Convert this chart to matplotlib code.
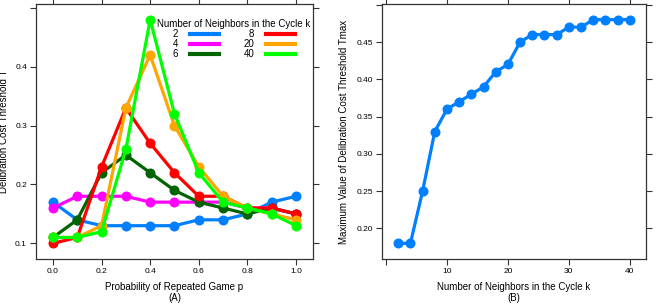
import numpy as np
import matplotlib
matplotlib.use("Agg")
from matplotlib import pyplot as plt

plt.rcParams["font.family"] = ["Liberation Sans", "DejaVu Sans"]

# panel A: threshold T against probability p, one line per k
p = [0.0, 0.1, 0.2, 0.3, 0.4, 0.5, 0.6, 0.7, 0.8, 0.9, 1.0]
k_labels = ["2", "4", "6", "8", "20", "40"]
t_k2 = [0.17, 0.14, 0.13, 0.13, 0.13, 0.13, 0.14, 0.14, 0.15, 0.17, 0.18]
t_k4 = [0.16, 0.18, 0.18, 0.18, 0.17, 0.17, 0.17, 0.17, 0.16, 0.16, 0.15]
t_k6 = [0.11, 0.14, 0.22, 0.25, 0.22, 0.19, 0.17, 0.16, 0.15, 0.16, 0.15]
t_k8 = [0.10, 0.11, 0.23, 0.33, 0.27, 0.22, 0.18, 0.18, 0.16, 0.16, 0.15]
t_k20 = [0.11, 0.11, 0.13, 0.33, 0.42, 0.30, 0.23, 0.18, 0.16, 0.15, 0.14]
t_k40 = [0.11, 0.11, 0.12, 0.26, 0.48, 0.32, 0.22, 0.17, 0.16, 0.15, 0.13]
colors = ["#0080ff", "#ff00ff", "#006400", "#ff0000", "#ffa500", "#00ff00"]

# panel B: max T against k
k = [2, 4, 6, 8, 10, 12, 14, 16, 18, 20, 22, 24, 26, 28, 30, 32, 34, 36, 38, 40]
t_max = [0.18, 0.18, 0.25, 0.33, 0.36, 0.37, 0.38, 0.39, 0.41, 0.42,
         0.45, 0.46, 0.46, 0.46, 0.47, 0.47, 0.48, 0.48, 0.48, 0.48]

fig = plt.figure(figsize=(6.6, 3.05), dpi=100)
ax1 = fig.add_axes([0.0545, 0.1508, 0.4197, 0.836])
ax2 = fig.add_axes([0.5788, 0.1508, 0.40, 0.836])

lw = 2.3
ms = 6.2
fs = 7.0


def style(ax):
    for s in ax.spines.values():
        s.set_color("#333333")
        s.set_linewidth(0.9)
    ax.tick_params(direction="out", length=4, width=0.8, color="#333333",
                   labelsize=6.0, top=True, right=True, pad=2.5)


series = [t_k2, t_k4, t_k6, t_k8, t_k20, t_k40]
for vals, c, lab in zip(series, colors, k_labels):
    ax1.plot(p, vals, "-o", color=c, lw=lw, ms=ms, label=lab)

ax1.set_xlim(-0.07, 1.07)
ax1.set_ylim(0.0734, 0.5066)
ax1.set_xticks([0.0, 0.2, 0.4, 0.6, 0.8, 1.0])
ax1.set_xticklabels(["0.0", "0.2", "0.4", "0.6", "0.8", "1.0"])
ax1.set_yticks([0.1, 0.2, 0.3, 0.4, 0.5])
ax1.set_yticklabels(["0.1", "0.2", "0.3", "0.4", ""])
style(ax1)
ax1.set_xlabel("Probability of Repeated Game p\n(A)", fontsize=fs, labelpad=5,
               linespacing=1.15)
ax1.set_ylabel("Delibration Cost Threshold T", fontsize=fs)
ax1.yaxis.set_label_coords(-0.096, 0.5)

leg = ax1.legend(loc="upper right", bbox_to_anchor=(1.0, 0.95), ncol=2,
                 markerfirst=False, frameon=False, fontsize=fs,
                 title="Number of Neighbors in the Cycle k", title_fontsize=fs,
                 handlelength=3.0, handletextpad=1.2, columnspacing=2.5,
                 labelspacing=0.0, borderpad=0.2, borderaxespad=0.05)
for h in leg.legend_handles:
    h.set_marker("")
    h.set_linewidth(3.0)

ax2.plot(k, t_max, "-o", color="#0080ff", lw=lw, ms=ms)
ax2.set_xlim(-0.66, 42.66)
ax2.set_ylim(0.159, 0.501)
ax2.set_xticks([0, 10, 20, 30, 40])
ax2.set_xticklabels(["", "10", "20", "30", "40"])
ax2.set_yticks([0.20, 0.25, 0.30, 0.35, 0.40, 0.45, 0.50])
ax2.set_yticklabels(["0.20", "0.25", "0.30", "0.35", "0.40", "0.45", ""])
style(ax2)
ax2.set_xlabel("Number of Neighbors in the Cycle k\n(B)", fontsize=fs, labelpad=5,
               linespacing=1.15)
ax2.set_ylabel("Maximum Value of Delibration Cost Threshold Tmax", fontsize=fs)
ax2.yaxis.set_label_coords(-0.125, 0.5)

fig.savefig("out.png", dpi=100)
